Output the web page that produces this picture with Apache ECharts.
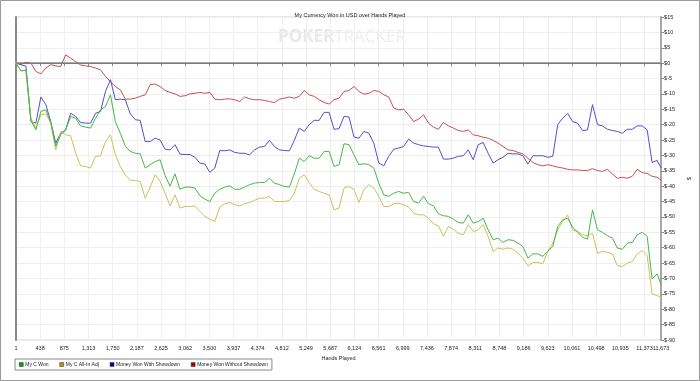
<!DOCTYPE html>
<html>
<head>
<meta charset="utf-8">
<script src="https://cdn.jsdelivr.net/npm/echarts@6/dist/echarts.min.js"></script>
<style>
html,body{margin:0;padding:0;background:#fff;}
#chart{width:700px;height:381px;}
</style>
</head>
<body>
<div id="chart"></div>
<script>
const chartTitle = 'My Currency Won in USD over Hands Played';
const xAxisName = 'Hands Played';
const yAxisName = '$';
const seriesNames = ['My C Won', 'My C All-In Adj', 'Money Won With Showdown', 'Money Won Without Showdown'];
const xTickLabels = [1, 438, 875, 1313, 1750, 2187, 2625, 3062, 3500, 3937, 4374, 4812, 5249, 5687, 6124, 6561, 6999, 7436, 7874, 8311, 8748, 9186, 9623, 10061, 10498, 10935, 11373, 11673];

const hands = [1,91,181,271,361,451,541,630,720,810,900,990,1080,1170,1260,1350,1440,1530,1620,1710,
1799,1889,1979,2069,2159,2249,2339,2429,2519,2609,2699,2789,2878,2968,3058,3148,3238,3328,3418,3508,
3598,3688,3778,3868,3958,4048,4137,4227,4317,4407,4497,4587,4677,4767,4857,4947,5037,5127,5217,5306,
5396,5486,5576,5666,5756,5846,5936,6026,6116,6206,6296,6386,6475,6565,6655,6745,6835,6925,7015,7105,
7195,7285,7375,7465,7555,7644,7734,7824,7914,8004,8094,8184,8274,8364,8454,8544,8634,8724,8813,8903,
8993,9083,9173,9263,9353,9443,9533,9623,9713,9803,9893,9982,10072,10162,10252,10342,10432,10522,10612,10702,
10792,10882,10972,11062,11151,11241,11331,11421,11511,11601,11673];

const myCWon = [0,-2.5,-2.3,-18.6,-21.7,-15.7,-15.2,-19.3,-27,-23.3,-21.7,-17.3,-17.9,-20.4,-20.8,-21.1,-17.9,-15.2,-14.1,-10.3,-19,-22.8,-27,-28.7,-29.3,-29.5,-34.1,-33,-32,-31.4,-36.6,-40,-36,-41,
-40.3,-40.3,-40.6,-43.1,-44.2,-45,-42.3,-41,-40.3,-39.9,-41,-41,-40.3,-39.5,-39,-38.8,-38.8,-37.4,-39,-39.5,-40.1,-40.3,-36,-30.9,-32,-30.1,-30.9,-30.9,-28.7,-28.7,-33.6,-33,-26.2,
-26.5,-29.8,-33,-32.7,-33,-34.1,-39,-42.8,-43.3,-42.3,-41.7,-42.3,-42,-45,-45.5,-43.3,-45.7,-46.4,-49,-49.6,-49.8,-50.7,-51.8,-52,-49.3,-52,-51.5,-50.4,-54.2,-57.4,-56.9,-58.3,-57.4,
-57.6,-58.5,-59.6,-63.4,-62,-62,-62.8,-61.2,-59.6,-53.1,-50.9,-50.4,-53.3,-55,-56.6,-57.2,-47.7,-54.2,-55,-56.1,-56.9,-60.1,-60.5,-58.5,-58.3,-55.8,-55,-56.3,-70.2,-68.5,-72];

const myCAllInAdj = [0,-2.5,-2.3,-17.9,-21.1,-16.8,-16.5,-19.5,-28.2,-22.2,-23.3,-23.6,-29.3,-33.4,-33.6,-34.1,-30.3,-30.1,-25.5,-23.3,-29.8,-33.6,-36.3,-38.1,-38.1,-38.5,-43.9,-40.3,-36.3,-38.5,-42.3,-46.4,-42.8,-47.1,
-46.6,-46.6,-46.4,-48.2,-49.8,-50.7,-51.5,-46.8,-45.7,-45.3,-46,-46.4,-45.7,-45.3,-44.6,-43.9,-43.9,-43.3,-45,-45,-45,-44.6,-42.3,-37.4,-36.3,-38.8,-41,-41.7,-42.3,-42.8,-47.7,-47.1,-40.6,
-40.1,-41,-45.3,-41,-39.5,-40.6,-43.3,-46.6,-46.6,-45.7,-45.5,-46,-46.8,-48.8,-49.3,-49.3,-50.4,-52.2,-52.9,-56.3,-53.1,-54,-55.3,-55.8,-52.5,-54.7,-54.2,-52.5,-56.3,-61.2,-60.1,-60.5,-60.1,
-60.5,-61.8,-63.4,-65.9,-64.8,-64.8,-65.2,-61.2,-58.5,-54.2,-51.5,-49.3,-54.2,-54.7,-55.8,-56.1,-55.3,-61.8,-61.2,-61.5,-62,-65.9,-66.1,-65,-64.5,-62,-60.9,-62.6,-75,-75.6,-76.1];

const wonWithShowdown = [0,-0.5,-1,-19,-19.5,-11,-13.5,-19,-26,-22.8,-21.7,-16.3,-17.3,-19.3,-19.5,-19.5,-16.3,-15.7,-9.2,-5.4,-11.9,-11.7,-11.9,-16.5,-18.4,-18.6,-25.5,-25.5,-24.4,-25,-28,-28.2,-26.5,-29.6,
-29.7,-29.7,-30.6,-32.5,-32.8,-35.5,-34.1,-28.4,-28.5,-28.2,-29,-29.3,-29.3,-29.8,-28.2,-27.3,-27.1,-25.1,-27.1,-28.2,-28.4,-28.5,-25.1,-21.1,-22.2,-20,-18.6,-18.6,-16,-16,-21.5,-21.3,-17.3,
-17.5,-24,-24.4,-22.2,-22.8,-26,-32.5,-33.4,-30.3,-28,-27.6,-27.1,-24.7,-26,-26.5,-26.9,-27.1,-27.3,-27.3,-31.2,-31.2,-30.9,-30.3,-30.1,-28.2,-31.4,-26.5,-25.8,-29.3,-32.5,-31.4,-30.6,-29.3,
-29.5,-29.5,-30.1,-32.8,-30.1,-30.1,-30.1,-30.6,-30.3,-20,-17.9,-16.3,-19,-19.5,-21.9,-21.7,-13.5,-20,-20.4,-21.5,-21.9,-22.2,-22.8,-21.5,-21.5,-20.4,-20.4,-21.7,-32.3,-31.6,-34.1];

const wonWithoutShowdown = [0,-0.4,0.3,0,-2.7,-3.5,-1.6,-0.5,-0.9,-1.1,2.7,1.6,0.5,-0.6,-0.9,-1.1,-1.6,-2.2,-4.3,-6,-7.6,-8.7,-11.7,-11.7,-11.4,-10.8,-10.3,-7,-6.8,-7.6,-8.9,-9.5,-10,-10.8,
-10.6,-10,-9.8,-9.5,-9.8,-9.5,-11.7,-11.9,-11.7,-11.6,-11.9,-12.5,-11,-11.6,-11.9,-11.9,-12.1,-12.5,-12.8,-11.7,-11.4,-11,-11.4,-10.8,-8.9,-10.3,-10.8,-11.9,-12.8,-13.3,-11.9,-11.4,-9.2,
-8.9,-7.6,-9.2,-10.1,-9.8,-8.9,-9.2,-10.3,-11,-14.6,-15.2,-15,-16.8,-19,-18.2,-16.8,-19.5,-20.8,-21.5,-19.3,-20.4,-21.1,-21.9,-22.2,-21.7,-23.3,-23.6,-24.1,-24.4,-25.1,-26,-27.1,-28.2,
-28.4,-29,-29.5,-30.9,-32.3,-33,-33.4,-33,-33.4,-33.8,-34.1,-34.5,-34.7,-34.7,-34.9,-34.9,-34.3,-34.9,-35.2,-34.5,-36,-37.4,-37.1,-37.4,-36.8,-34.5,-35.6,-35.8,-36.8,-37.1,-38];

const lineColors = ['#45b845', '#c6c45c', '#5050cc', '#c65050'];
const legendColors = ['#119911', '#9e9e00', '#0000a8', '#a80000'];
const seriesValues = [myCWon, myCAllInAdj, wonWithShowdown, wonWithoutShowdown];

const FONT = 'Liberation Sans, Arial, sans-serif';
const FS = 5.5;
const chart = echarts.init(document.getElementById('chart'), null, {renderer: 'canvas'});

const series = seriesValues.map((vals, i) => ({
  name: seriesNames[i],
  type: 'line',
  data: hands.map((h, j) => [h, vals[j]]),
  showSymbol: false,
  symbol: 'none',
  lineStyle: {color: lineColors[i], width: 1},
  itemStyle: {color: legendColors[i], borderColor: '#333', borderWidth: 0.5},
  z: 3 + (3 - i),
  markLine: i === 0 ? {
    silent: true, symbol: 'none', label: {show: false},
    lineStyle: {color: '#7a7a7a', width: 1, type: 'solid'},
    data: [{yAxis: 0}], animation: false
  } : undefined
}));

chart.setOption({
  animation: false,
  backgroundColor: '#fff',
  title: {
    text: chartTitle, left: 'center', top: 7,
    textStyle: {fontSize: FS, fontWeight: 'normal', color: '#222', fontFamily: FONT}
  },
  graphic: [
    {type: 'rect', shape: {x: 0.5, y: 0.5, width: 699, height: 380},
     style: {fill: 'none', stroke: '#9a9a9a', lineWidth: 1}, z: 100, silent: true},
    {type: 'text', left: 278, top: 29, z: 0, silent: true,
     style: {text: '{a|POKER}{b|TRACKER}',
       rich: {a: {fontSize: 17, fontWeight: 'bold', fill: '#e8e8e8', fontFamily: 'Open Sans'},
              b: {fontSize: 17, fill: '#eeeeee', fontFamily: 'Open Sans'}}}}
  ],
  legend: {
    data: seriesNames, left: 15, top: 359,
    orient: 'horizontal',
    icon: 'rect', itemWidth: 4, itemHeight: 4, itemGap: 11,
    padding: [3, 4, 3, 4], borderColor: '#8a8a8a', borderWidth: 1,
    textStyle: {fontSize: 5, color: '#222', fontFamily: FONT, padding: [0, 0, 0, -3]},
    itemStyle: {borderColor: '#333', borderWidth: 0.5}
  },
  grid: {left: 16, right: 35, top: 17, bottom: 41, show: true, borderColor: '#d0d0d0', borderWidth: 1},
  xAxis: {
    type: 'value', min: 1, max: 11673,
    name: xAxisName, nameLocation: 'middle', nameGap: 15,
    nameTextStyle: {fontSize: FS, color: '#222', fontFamily: FONT},
    axisLine: {show: true, lineStyle: {color: '#a8a8a8', width: 2}},
    axisTick: {show: true, length: 3, customValues: xTickLabels, lineStyle: {color: '#888'}},
    axisLabel: {customValues: xTickLabels, fontSize: FS, color: '#222', margin: 5, fontFamily: FONT,
      hideOverlap: false, showMaxLabel: true, showMinLabel: true,
      formatter: v => Math.round(v).toLocaleString('en-US')},
    splitLine: {show: true, lineStyle: {color: '#efefef', width: 1}}
  },
  yAxis: [{
    type: 'value', position: 'right', min: -90, max: 15, interval: 5,
    name: yAxisName, nameLocation: 'middle', nameGap: 20, nameRotate: -90,
    nameTextStyle: {fontSize: FS, color: '#222', fontFamily: FONT},
    axisLine: {show: true, lineStyle: {color: '#a8a8a8', width: 2}},
    axisTick: {show: true, length: 3, inside: false, lineStyle: {color: '#888'}},
    axisLabel: {fontSize: FS, color: '#222', margin: 3, fontFamily: FONT, formatter: v => '$' + v},
    splitLine: {show: true, lineStyle: {color: '#efefef', width: 1}}
  }, {
    type: 'value', position: 'left', min: -90, max: 15, interval: 5,
    axisLine: {show: true, onZero: false, lineStyle: {color: '#8a8a8a', width: 2}},
    axisTick: {show: false}, axisLabel: {show: false}, splitLine: {show: false}
  }],
  series: series
});
</script>
</body>
</html>
